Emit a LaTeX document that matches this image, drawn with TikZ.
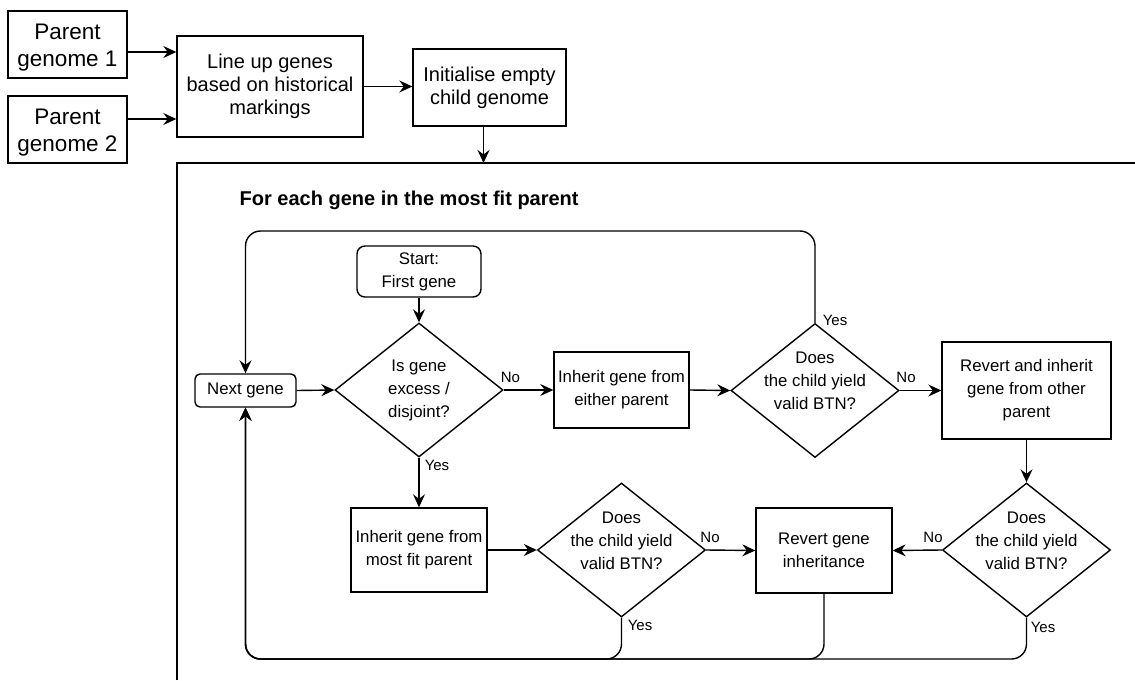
\documentclass[tikz,border=0pt]{standalone}
\usepackage{fontspec}
\setmainfont{Liberation Sans}
\usetikzlibrary{shapes.geometric,arrows.meta,calc}
\begin{document}
\begin{tikzpicture}[x=1pt,y=-1pt,
  line width=1.4pt,
  arr/.style={-{Stealth[length=13pt,width=12pt,inset=4.5pt]}},
  pgtxt/.style={font=\fontsize{22.5}{27}\selectfont, align=center},
  bigtxt/.style={font=\fontsize{20}{23}\selectfont, align=center},
  smalltxt/.style={font=\fontsize{16.8}{23}\selectfont, align=center},
  lbl/.style={font=\fontsize{15}{18}\selectfont, inner sep=0pt},
  titletxt/.style={font=\fontsize{20}{23}\selectfont\bfseries, inner sep=0pt},
  procbox/.style={draw, rectangle, inner sep=0pt},
  roundbox/.style={draw, rectangle, inner sep=0pt, smalltxt},
  dia/.style={draw, diamond, inner sep=0pt, minimum width=168, minimum height=134},
]
\useasboundingbox (0,0) rectangle (1135,680);
\fill[white] (0,0) rectangle (1135,680);

% preparation steps
\node[procbox,minimum width=119,minimum height=67] (pg1) at (67.5,44.5) {};
\node[pgtxt] (pg1t) at ([yshift=-3pt]pg1.center) {Parent\\genome 1};
\node[procbox,minimum width=119,minimum height=67] (pg2) at (67.5,129.5) {};
\node[pgtxt] (pg2t) at ([yshift=-3pt]pg2.center) {Parent\\genome 2};
\node[procbox,bigtxt,minimum width=186,minimum height=101] (lineup) at (270,86.5) {Line up genes\\based on historical\\markings};
\node[procbox,bigtxt,minimum width=153,minimum height=77] (init) at (489.5,87.5) {Initialise empty\\child genome};

% loop container
\coordinate (contTL) at (177,163);
\draw (177,680) -- (contTL) -- (1135,163);
\node[titletxt, anchor=west] (title) at (239,200) {For each gene in the most fit parent};

\draw[arr] ([yshift=-7.5pt]pg1.east) coordinate (p1) -- (p1 -| lineup.west);
\draw[arr] ([yshift=10.5pt]pg2.east) coordinate (p2) -- (p2 -| lineup.west);
\draw[arr] (lineup.east) -- (lineup.east -| init.west);
\draw[arr] ([xshift=-6pt]init.south) coordinate (p3) -- (p3 |- contTL);

% loop body
\node[roundbox, minimum width=101, minimum height=33, rounded corners=5] (next) at (245.5,390.5) {Next gene};
\node[roundbox, minimum width=124, minimum height=51, rounded corners=8] (start) at (419,271.5) {Start:\\First gene};

\node[dia] (d1) at (419,390) {};
\node[smalltxt] (d1t) at (d1) {Is gene\\excess /\\disjoint?};
\node[dia] (d2) at (815,390.5) {};
\node[smalltxt] (d2t) at ([yshift=10pt]d2.center) {Does\\the child yield\\valid BTN?};
\node[dia] (d3) at (621.5,550) {};
\node[smalltxt] (d3t) at ([yshift=9pt]d3.center) {Does\\the child yield\\valid BTN?};
\node[dia] (d4) at (1026.5,550) {};
\node[smalltxt] (d4t) at ([yshift=9pt]d4.center) {Does\\the child yield\\valid BTN?};

\node[procbox,smalltxt,minimum width=135,minimum height=76] (either) at (621.5,390) {Inherit gene from\\either parent};
\node[procbox,smalltxt,minimum width=169,minimum height=97] (other) at (1026.5,390.5) {Revert and inherit\\gene from other\\parent};
\node[procbox,smalltxt,minimum width=136,minimum height=84] (fit) at (419,550) {Inherit gene from\\most fit parent};
\node[procbox,smalltxt,minimum width=136,minimum height=85] (revert) at (824,550.5) {Revert gene\\inheritance};

\coordinate (looptop) at (0,231);
\coordinate (loopbot) at (0,659);

\draw[arr] (start.south) -- (d1.north);
\draw[arr] (next.east) -- (d1.west);
\draw[arr] (d1.east) -- (either.west);
\draw[arr] (either.east) -- (d2.west);
\draw[arr] (d2.east) -- (other.west);
\draw[arr] (other.south) -- (d4.north);
\draw[arr] (d4.west) -- (revert.east);
\draw[arr] (d1.south) -- (fit.north);
\draw[arr] (fit.east) -- (d3.west);
\draw[arr] (d3.east) -- (revert.west);
\draw[arr, rounded corners=15] (d2.north) |- (next.north |- looptop) -- (next.north);
\draw[arr, rounded corners=15] (d4.south) |- (next.south |- loopbot) -- (next.south);
\draw[arr, rounded corners=15] (revert.south) |- (next.south |- loopbot) -- (next.south);
\draw[arr, rounded corners=15] (d3.south) |- (next.south |- loopbot) -- (next.south);

% branch labels
\node[lbl] (n1) at (510.5,377) {No};
\node[lbl] (y1) at (437,465) {Yes};
\node[lbl] (y2) at (835,320) {Yes};
\node[lbl] (n2) at (906,377) {No};
\node[lbl] (n3) at (710,537) {No};
\node[lbl] (y3) at (640,625) {Yes};
\node[lbl] (n4) at (933,537) {No};
\node[lbl] (y4) at (1043,627) {Yes};
\end{tikzpicture}
\end{document}
